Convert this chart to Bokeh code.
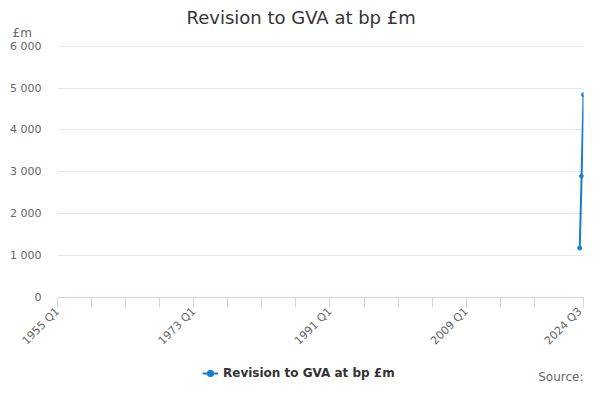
import math
from bokeh.plotting import figure
from bokeh.layouts import column
from bokeh.models import FixedTicker, Legend, LegendItem, Range1d, Title, Label
from bokeh.embed import file_html
from bokeh.resources import INLINE

# ---- data ----
title_text = "Revision to GVA at bp £m"
series_name = "Revision to GVA at bp £m"
first_quarter = "1955 Q1"
last_quarter = "2024 Q3"
quarters = ["2024 Q1", "2024 Q2", "2024 Q3"]
revision = [1180, 2900, 4840]
labelled_quarters = ["1955 Q1", "1973 Q1", "1991 Q1", "2009 Q1", "2024 Q3"]
y_ticks = [0, 1000, 2000, 3000, 4000, 5000, 6000]
y_tick_labels = ["0", "1 000", "2 000", "3 000", "4 000", "5 000", "6 000"]
unit_label = "£m"
source_text = "Source:"


def q_index(label):
    year, q = label.split(" Q")
    first_year, first_q = first_quarter.split(" Q")
    return (int(year) - int(first_year)) * 4 + int(q) - int(first_q)


xs = [q_index(q) for q in quarters]
x_end = q_index(last_quarter)
tick_pos = [t for t in range(0, x_end, 18) if t <= q_index("2018 Q1")] + [x_end]
labels_map = {t: "" for t in tick_pos}
for lab in labelled_quarters:
    labels_map[q_index(lab)] = lab

FONT = "DejaVu Sans"
LINE_COLOR = "#167fcc"

p = figure(width=584, height=355, output_backend="svg", toolbar_location=None,
           x_range=Range1d(0, x_end), y_range=Range1d(0, 6015),
           min_border_left=57, min_border_right=1, min_border_top=45,
           min_border_bottom=58, title=None)
p.outline_line_color = None
p.background_fill_color = "white"
p.border_fill_color = "white"

# x axis
p.xaxis.ticker = FixedTicker(ticks=tick_pos, minor_ticks=[])
p.xaxis.major_label_overrides = labels_map
p.xaxis.major_label_orientation = math.pi / 4
p.xaxis.axis_line_color = "#ccd6eb"
p.xaxis.major_tick_line_color = "#ccd6eb"
p.xaxis.major_tick_out = 10
p.xaxis.major_tick_in = 0
p.xaxis.minor_tick_line_color = None
p.xaxis.major_label_text_color = "#666666"
p.xaxis.major_label_text_font = FONT
p.xaxis.major_label_text_font_size = "11px"
p.xaxis.major_label_standoff = 2
p.xgrid.grid_line_color = None

# y axis
p.yaxis.ticker = FixedTicker(ticks=y_ticks, minor_ticks=[])
p.yaxis.major_label_overrides = dict(zip(y_ticks, y_tick_labels))
p.yaxis.axis_line_color = None
p.yaxis.major_tick_line_color = None
p.yaxis.minor_tick_line_color = None
p.yaxis.major_tick_out = 0
p.yaxis.major_tick_in = 0
p.yaxis.major_label_standoff = 16
p.yaxis.major_label_text_color = "#666666"
p.yaxis.major_label_text_font = FONT
p.yaxis.major_label_text_font_size = "11px"
p.ygrid.grid_line_color = "#e6e6e6"

p.line(xs, revision, line_color=LINE_COLOR, line_width=2)
p.scatter(xs, revision, size=4, fill_color=LINE_COLOR, line_color=LINE_COLOR)

p.add_layout(Title(text=unit_label, align="left", offset=-45, text_font=FONT,
                   text_font_size="12px", text_font_style="normal",
                   text_color="#666666", standoff=12), "above")
p.add_layout(Title(text=title_text, align="left", offset=129, text_font=FONT,
                   text_font_size="18px", text_font_style="normal",
                   text_color="#333333", standoff=-20), "above")

# ---- legend / source strip ----
f2 = figure(width=584, height=29, output_backend="svg", toolbar_location=None,
            x_range=Range1d(0, x_end), y_range=Range1d(100000, 100001),
            min_border_left=57, min_border_right=1, min_border_top=0,
            min_border_bottom=0, title=None,
            x_axis_location=None, y_axis_location=None)
f2.outline_line_color = None
f2.xgrid.grid_line_color = None
f2.ygrid.grid_line_color = None
lr = f2.line(xs, revision, line_color=LINE_COLOR, line_width=2)
sr = f2.scatter(xs, revision, size=4, fill_color=LINE_COLOR, line_color=LINE_COLOR)
legend = Legend(items=[LegendItem(label=series_name, renderers=[lr, sr])],
                location=(145, 3), orientation="horizontal",
                padding=0, margin=0, spacing=0,
                glyph_width=16, glyph_height=16, label_height=16,
                label_standoff=5,
                border_line_color=None, background_fill_alpha=0,
                label_text_font=FONT, label_text_font_size="12px",
                label_text_font_style="bold", label_text_color="#333333")
f2.add_layout(legend, "center")
f2.add_layout(Label(x=526, y=1, x_units="screen", y_units="screen", text=source_text,
                    text_align="right", text_baseline="bottom", text_font=FONT,
                    text_font_size="12px", text_color="#666666"))

layout = column(p, f2, spacing=0)
open("out.html", "w").write(file_html(layout, INLINE))
